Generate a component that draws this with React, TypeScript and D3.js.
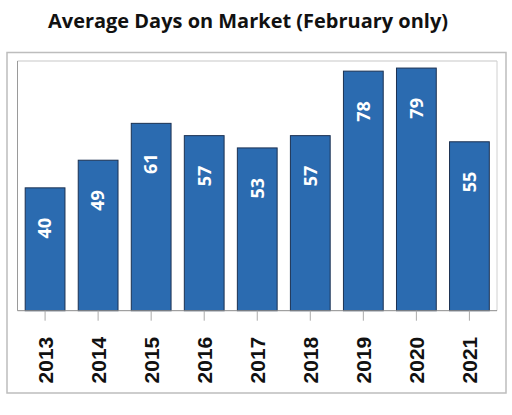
import * as d3 from 'd3';

const YEARS: string[] = ['2013', '2014', '2015', '2016', '2017', '2018', '2019', '2020', '2021'];
const DAYS: number[] = [40, 49, 61, 57, 53, 57, 78, 79, 55];

const W = 512;
const H = 415;

export default function App() {
  const plot = { left: 17.5, right: 497, top: 61, bottom: 310.7 };

  const x = d3.scaleBand<string>()
    .domain(YEARS)
    .range([plot.left, plot.right])
    .paddingInner(0.25)
    .paddingOuter(0.145);

  const y = d3.scaleLinear()
    .domain([0, 81.3])
    .range([plot.bottom, plot.top]);

  const bw = x.bandwidth();

  return (
    <svg width={W} height={H} style={{ position: 'absolute', left: 0, top: 0, background: '#fff' }}>
      {/* Title */}
      <text
        x={248} y={27.5} textAnchor="middle"
        fontSize={19} fontWeight={700} fontFamily="'Open Sans', sans-serif" fill="#111"
        textLength={400} lengthAdjust="spacingAndGlyphs"
      >
        Average Days on Market (February only)
      </text>

      {/* Outer frame */}
      <rect x={7} y={52.5} width={499} height={340.5} fill="none" stroke="#bdbdbd" strokeWidth={1.5} />

      {/* Plot area borders */}
      <line x1={plot.left} x2={plot.right} y1={plot.top} y2={plot.top} stroke="#e3e3e3" strokeWidth={2} />
      <line x1={plot.right} x2={plot.right} y1={plot.top} y2={plot.bottom} stroke="#d0d0d0" strokeWidth={1} />
      <line x1={plot.left} x2={plot.left} y1={plot.top} y2={plot.bottom} stroke="#9a9a9a" strokeWidth={1} />

      {/* Bars */}
      {DAYS.map((v, i) => {
        const bx = x(YEARS[i]) ?? 0;
        const top = y(v);
        const cx = bx + bw / 2;
        return (
          <g key={YEARS[i]}>
            <rect
              x={bx} y={top} width={bw} height={plot.bottom - top}
              fill="#2b6bb0" stroke="#1b3152" strokeWidth={1}
            />
            <text
              transform={`translate(${cx + 6.3},${top + 30}) rotate(-90)`}
              textAnchor="end" fontSize={18} fontWeight={700}
              fontFamily="'Open Sans', sans-serif" fill="#fff"
            >
              {v}
            </text>
          </g>
        );
      })}

      {/* Bottom axis */}
      <line x1={plot.left} x2={plot.right} y1={plot.bottom} y2={plot.bottom} stroke="#8a8a8a" strokeWidth={1} />
      {YEARS.map(yr => {
        const cx = (x(yr) ?? 0) + bw / 2;
        return (
          <g key={yr}>
            <line x1={cx} x2={cx} y1={plot.bottom} y2={plot.bottom + 10} stroke="#aaa" strokeWidth={1} />
            <text
              transform={`translate(${cx + 7.5},${plot.bottom + 26}) rotate(-90)`}
              textAnchor="end" fontSize={21} fontWeight={700}
              fontFamily="'Liberation Sans', Arial, sans-serif" fill="#111"
            >
              {yr}
            </text>
          </g>
        );
      })}
    </svg>
  );
}
